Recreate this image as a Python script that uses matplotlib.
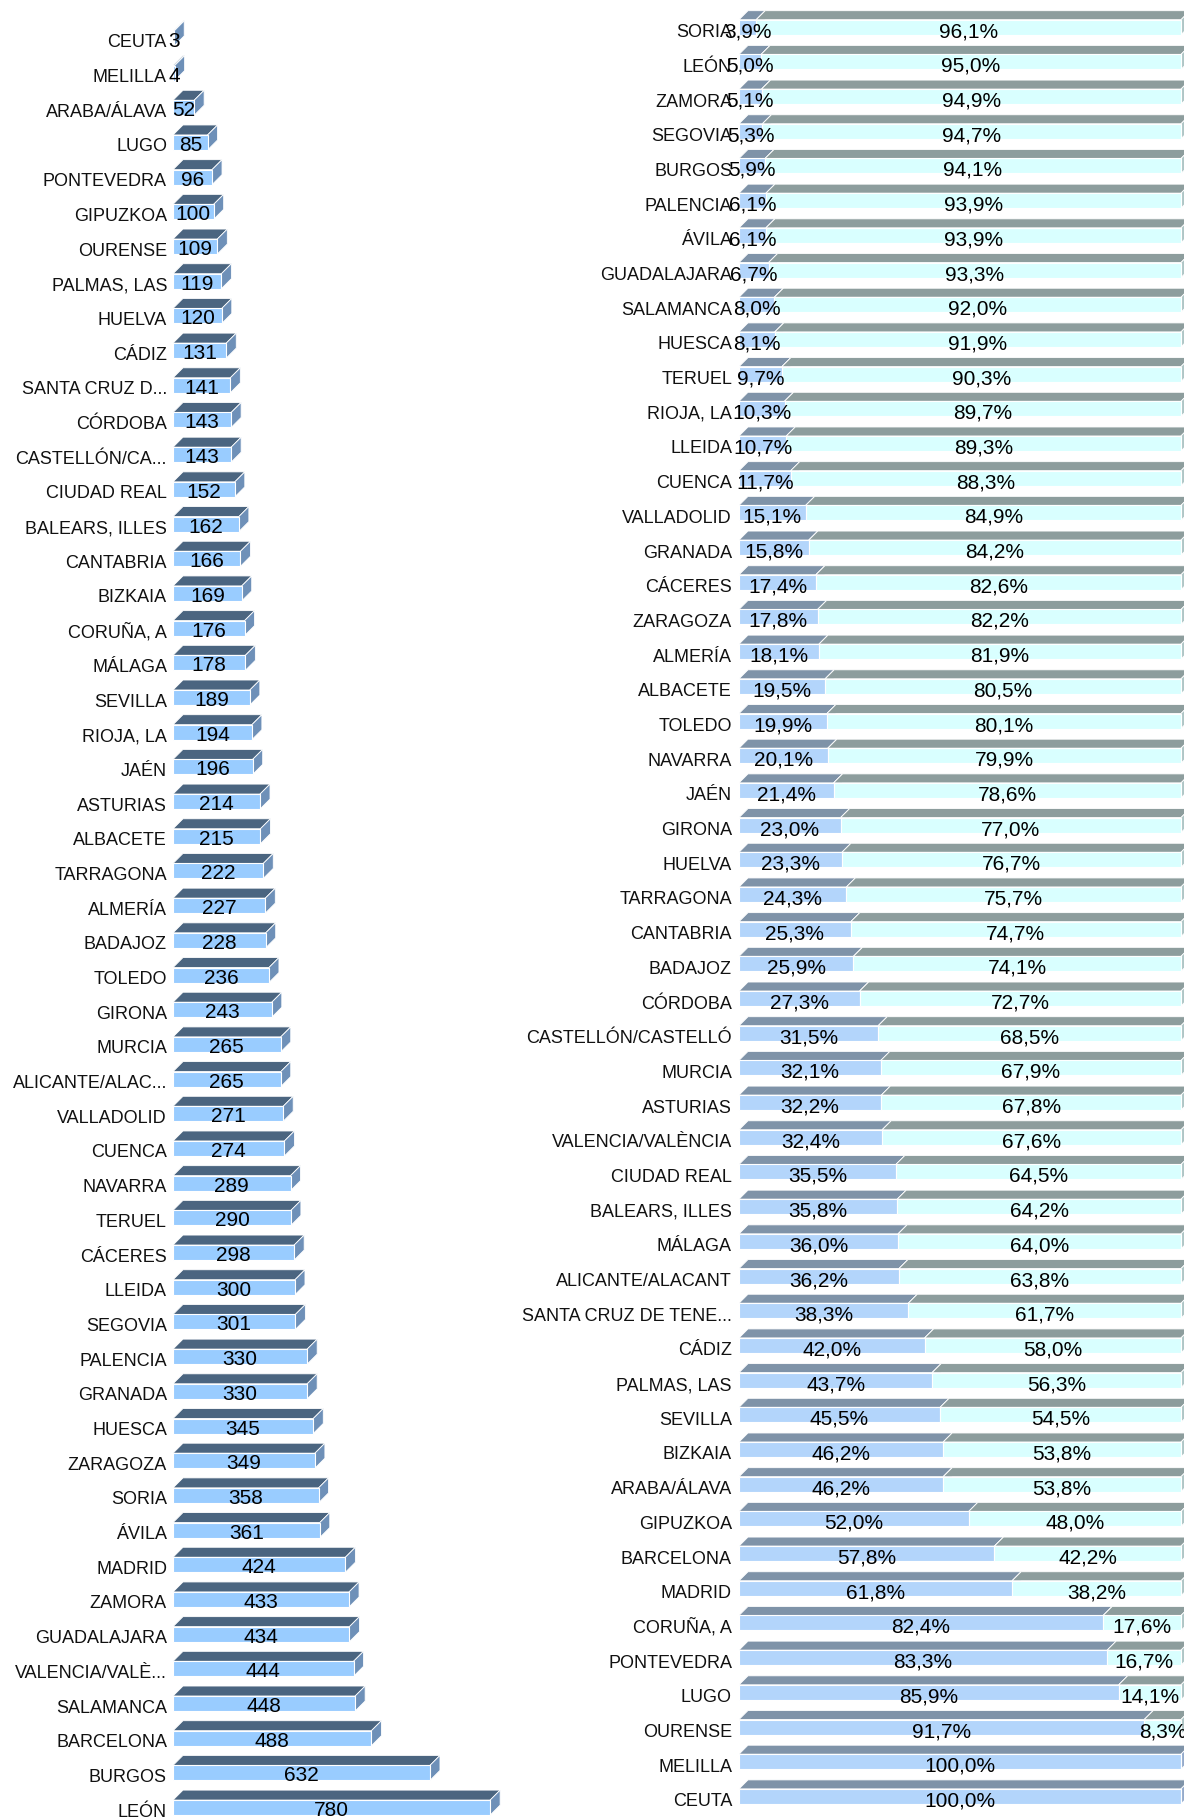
import matplotlib.pyplot as plt
from matplotlib.patches import Polygon
from matplotlib.transforms import offset_copy

plt.rcParams['font.family'] = ['Liberation Sans', 'DejaVu Sans']

# left panel: counts per province (top to bottom)
prov_left = ['CEUTA', 'MELILLA', 'ARABA/ÁLAVA', 'LUGO', 'PONTEVEDRA', 'GIPUZKOA',
             'OURENSE', 'PALMAS, LAS', 'HUELVA', 'CÁDIZ', 'SANTA CRUZ D...', 'CÓRDOBA',
             'CASTELLÓN/CA...', 'CIUDAD REAL', 'BALEARS, ILLES', 'CANTABRIA', 'BIZKAIA',
             'CORUÑA, A', 'MÁLAGA', 'SEVILLA', 'RIOJA, LA', 'JAÉN', 'ASTURIAS', 'ALBACETE',
             'TARRAGONA', 'ALMERÍA', 'BADAJOZ', 'TOLEDO', 'GIRONA', 'MURCIA',
             'ALICANTE/ALAC...', 'VALLADOLID', 'CUENCA', 'NAVARRA', 'TERUEL', 'CÁCERES',
             'LLEIDA', 'SEGOVIA', 'PALENCIA', 'GRANADA', 'HUESCA', 'ZARAGOZA', 'SORIA',
             'ÁVILA', 'MADRID', 'ZAMORA', 'GUADALAJARA', 'VALENCIA/VALÈ...', 'SALAMANCA',
             'BARCELONA', 'BURGOS', 'LEÓN']
counts = [3, 4, 52, 85, 96, 100, 109, 119, 120, 131, 141, 143, 143, 152, 162, 166, 169,
          176, 178, 189, 194, 196, 214, 215, 222, 227, 228, 236, 243, 265, 265, 271, 274,
          289, 290, 298, 300, 301, 330, 330, 345, 349, 358, 361, 424, 433, 434, 444, 448,
          488, 632, 780]

# right panel: percentage split per province
prov_right = ['SORIA', 'LEÓN', 'ZAMORA', 'SEGOVIA', 'BURGOS', 'PALENCIA', 'ÁVILA',
              'GUADALAJARA', 'SALAMANCA', 'HUESCA', 'TERUEL', 'RIOJA, LA', 'LLEIDA',
              'CUENCA', 'VALLADOLID', 'GRANADA', 'CÁCERES', 'ZARAGOZA', 'ALMERÍA',
              'ALBACETE', 'TOLEDO', 'NAVARRA', 'JAÉN', 'GIRONA', 'HUELVA', 'TARRAGONA',
              'CANTABRIA', 'BADAJOZ', 'CÓRDOBA', 'CASTELLÓN/CASTELLÓ', 'MURCIA', 'ASTURIAS',
              'VALENCIA/VALÈNCIA', 'CIUDAD REAL', 'BALEARS, ILLES', 'MÁLAGA',
              'ALICANTE/ALACANT', 'SANTA CRUZ DE TENE...', 'CÁDIZ', 'PALMAS, LAS', 'SEVILLA',
              'BIZKAIA', 'ARABA/ÁLAVA', 'GIPUZKOA', 'BARCELONA', 'MADRID', 'CORUÑA, A',
              'PONTEVEDRA', 'LUGO', 'OURENSE', 'MELILLA', 'CEUTA']
pct_a = [3.9, 5.0, 5.1, 5.3, 5.9, 6.1, 6.1, 6.7, 8.0, 8.1, 9.7, 10.3, 10.7, 11.7, 15.1,
         15.8, 17.4, 17.8, 18.1, 19.5, 19.9, 20.1, 21.4, 23.0, 23.3, 24.3, 25.3, 25.9,
         27.3, 31.5, 32.1, 32.2, 32.4, 35.5, 35.8, 36.0, 36.2, 38.3, 42.0, 43.7, 45.5,
         46.2, 46.2, 52.0, 57.8, 61.8, 82.4, 83.3, 85.9, 91.7, 100.0, 100.0]
pct_b = [96.1, 95.0, 94.9, 94.7, 94.1, 93.9, 93.9, 93.3, 92.0, 91.9, 90.3, 89.7, 89.3,
         88.3, 84.9, 84.2, 82.6, 82.2, 81.9, 80.5, 80.1, 79.9, 78.6, 77.0, 76.7, 75.7,
         74.7, 74.1, 72.7, 68.5, 67.9, 67.8, 67.6, 64.5, 64.2, 64.0, 63.8, 61.7, 58.0,
         56.3, 54.5, 53.8, 53.8, 48.0, 42.2, 38.2, 17.6, 16.7, 14.1, 8.3, 0.0, 0.0]

W, H = 1184, 1817
PITCH = 34.69
fig = plt.figure(figsize=(W / 100, H / 100), dpi=100)


def make_ax(left_px, right_px, px_per_unit, row0_px):
    ax = fig.add_axes([left_px / W, 0, (right_px - left_px) / W, 1])
    ax.set_xlim(0, (right_px - left_px) / px_per_unit)
    ax.set_ylim((H - row0_px) / PITCH, -row0_px / PITCH)
    ax.axis('off')
    return ax


def depth(ax, dpx, dpy):
    # convert a pixel depth into data units
    (x0, y0), (x1, y1) = ax.transData.transform([(0, 0), (1, 1)])
    return dpx / abs(x1 - x0), dpy / abs(y1 - y0)


def box_faces(ax, x0, x1, y, h, dx, dy, top_c, side_c, side=True):
    t = y - h / 2
    b = y + h / 2
    ax.add_patch(Polygon([(x0, t), (x1, t), (x1 + dx, t - dy), (x0 + dx, t - dy)],
                         closed=True, fc=top_c, ec='white', lw=0.6, clip_on=False))
    if side:
        ax.add_patch(Polygon([(x1, b), (x1, t), (x1 + dx, t - dy), (x1 + dx, b - dy)],
                             closed=True, fc=side_c, ec='white', lw=0.6, clip_on=False))


def fmt(v):
    return f'{v:.1f}'.replace('.', ',') + '%'


BAR_H = 15 / PITCH

# ---- left panel ----
axl = make_ax(173, 700, 0.4066, 38.4)
dxl, dyl = depth(axl, 10, 10)
rows = list(range(len(counts)))
for i, v in zip(rows, counts):
    box_faces(axl, 0, v, i, BAR_H, dxl, dyl, '#4B6580', '#6E90B8')
axl.barh(rows, counts, height=BAR_H, color='#99CCFF', edgecolor='white', lw=0.8,
         clip_on=False)
lab_tr = offset_copy(axl.transData, fig=fig, x=-6, y=-9, units='dots')
val_tr = offset_copy(axl.transData, fig=fig, x=0, y=-8.5, units='dots')
for i, (name, v) in enumerate(zip(prov_left, counts)):
    axl.text(0, i, name, transform=lab_tr, ha='right', va='baseline', fontsize=13,
             color='#111111', clip_on=False)
    axl.text(v / 2, i, str(v), transform=val_tr, ha='center', va='baseline',
             fontsize=15, color='black', clip_on=False)

# ---- right panel ----
axr = make_ax(739, W, 4.42, 27.2)
dxr, dyr = depth(axr, 9, 9)
rows_r = list(range(len(pct_a)))
for i, a, bv in zip(rows_r, pct_a, pct_b):
    box_faces(axr, 0, a, i, BAR_H, dxr, dyr, '#7F93A8', '#94AACB')
axr.barh(rows_r, pct_a, height=BAR_H, color='#B3D5FB', edgecolor='white', lw=0.8,
         clip_on=False)
for i, a, bv in zip(rows_r, pct_a, pct_b):
    if bv > 0:
        box_faces(axr, a, a + bv, i, BAR_H, dxr, dyr, '#8D9D9D', '#AFC6C6')
axr.barh(rows_r, pct_b, left=pct_a, height=BAR_H, color='#D9FFFF', edgecolor='white',
         lw=0.8, clip_on=False)
lab_tr = offset_copy(axr.transData, fig=fig, x=-7, y=-10, units='dots')
val_tr = offset_copy(axr.transData, fig=fig, x=0, y=-10, units='dots')
for i, (name, a, bv) in enumerate(zip(prov_right, pct_a, pct_b)):
    axr.text(0, i, name, transform=lab_tr, ha='right', va='baseline', fontsize=13,
             color='#111111', clip_on=False)
    axr.text(a / 2, i, fmt(a), transform=val_tr, ha='center', va='baseline',
             fontsize=15, color='black', clip_on=False)
    if bv > 0:
        axr.text(a + bv / 2, i, fmt(bv), transform=val_tr, ha='center', va='baseline',
                 fontsize=15, color='black', clip_on=False)

fig.savefig('out.png', dpi=100, facecolor='white')
